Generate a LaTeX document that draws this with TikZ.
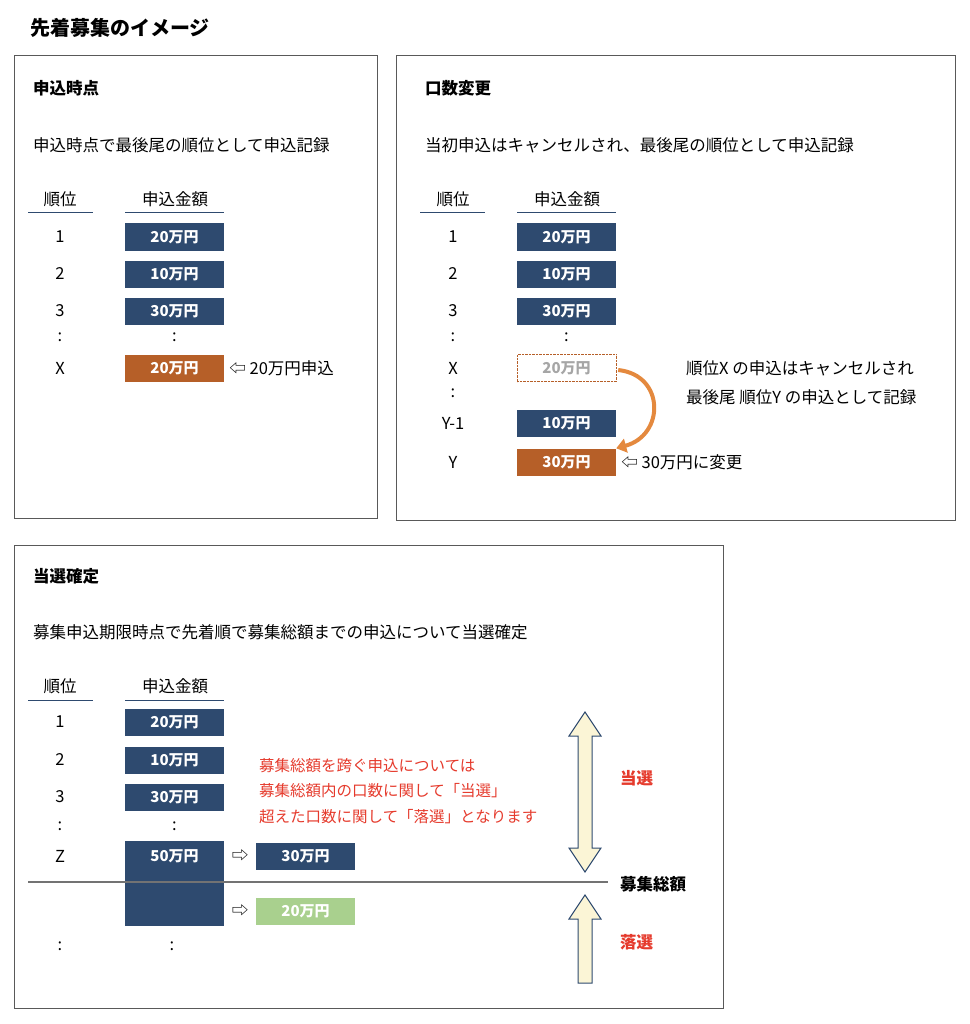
\documentclass[tikz,border=0pt]{standalone}
\usepackage{fontspec}
\setmainfont{Noto Sans CJK JP}
\usetikzlibrary{positioning,arrows.meta}
\definecolor{navy}{HTML}{2E4A6F}
\definecolor{rust}{HTML}{B65F28}
\definecolor{flame}{HTML}{E4893E}
\definecolor{leaf}{HTML}{A9D08E}
\definecolor{alert}{HTML}{E53A2C}
\definecolor{cream}{HTML}{FBF5D6}
\tikzset{
	panel/.style={draw=black!65, line width=0.8pt},
	amount/.style={fill=navy, text=white, font=\bfseries\fontsize{15}{17}\selectfont, minimum width=99pt, minimum height=27pt, inner sep=0pt},
	txt/.style={font=\fontsize{16.5}{19}\selectfont, inner sep=0pt},
	head/.style={font=\bfseries\fontsize{16.5}{19}\selectfont, anchor=west, inner sep=0pt},
	note/.style={txt, anchor=west},
	fat/.style={draw=navy, fill=cream, line width=1pt}
}
\begin{document}
\begin{tikzpicture}[x=1pt,y=-1pt]
	\useasboundingbox (0,0) rectangle (969,1024);
	\node[head, font=\bfseries\fontsize{20}{24}\selectfont] (title) at (30,28) {先着募集のイメージ};
	% panel 1
	\draw[panel] (14,55) rectangle (377,518);
	\node[head] (t1) at (33,88) {申込時点};
	\node[note] (d1) at (33,145) {申込時点で最後尾の順位として申込記録};
	\node[txt] (h1a) at (60,199) {順位};
	\node[txt] (h1b) at (175,199) {申込金額};
	\draw[navy, line width=1pt] (28,213) -- (93,213) (125,213) -- (224,213);
	\node[txt] (r1a) at (60,237) {1};
	\node[amount] (b1a) at (174.5,237) {20万円};
	\node[txt] (r1b) at (60,274) {2};
	\node[amount] (b1b) at (174.5,274) {10万円};
	\node[txt] (r1c) at (60,311) {3};
	\node[amount] (b1c) at (174.5,311) {30万円};
	\node[txt] (c1a) at (60,337) {:};
	\node[txt] (c1b) at (174.5,337) {:};
	\node[txt] (r1x) at (60,368) {X};
	\node[amount, fill=rust] (b1x) at (174.5,368) {20万円};
	\node[note, right=5pt of b1x] (n1) {⇦ 20万円申込};
	% panel 2
	\draw[panel] (396,55) rectangle (955,520);
	\node[head] (t2) at (425,88) {口数変更};
	\node[note] (d2) at (425,145) {当初申込はキャンセルされ、最後尾の順位として申込記録};
	\node[txt] (h2a) at (453,199) {順位};
	\node[txt] (h2b) at (567,199) {申込金額};
	\draw[navy, line width=1pt] (420,213) -- (485,213) (517,213) -- (616,213);
	\node[txt] (r2a) at (453,237) {1};
	\node[amount] (b2a) at (566.5,237) {20万円};
	\node[txt] (r2b) at (453,274) {2};
	\node[amount] (b2b) at (566.5,274) {10万円};
	\node[txt] (r2c) at (453,311) {3};
	\node[amount] (b2c) at (566.5,311) {30万円};
	\node[txt] (c2a) at (453,337) {:};
	\node[txt] (c2b) at (566.5,337) {:};
	\node[txt] (r2x) at (453,368) {X};
	\node[amount, fill=none, draw=rust, densely dotted, text=black!35] (b2x) at (566.5,368) {20万円};
	\node[txt] (c2c) at (453,393) {:};
	\node[txt] (r2y1) at (453,423) {Y-1};
	\node[amount] (b2y1) at (566.5,423) {10万円};
	\node[txt] (r2y) at (453,462) {Y};
	\node[amount, fill=rust] (b2y) at (566.5,462) {30万円};
	\node[note, right=5pt of b2y] (n2) {⇦ 30万円に変更};
	\node[note] (m2a) at (686,368) {順位X の申込はキャンセルされ};
	\node[note] (m2b) at (686,397) {最後尾 順位Y の申込として記録};
	\draw[flame, line width=4pt, -{Triangle[length=10pt,width=14pt]}]
		(b2x.east) ++(2,2) .. controls (665,375) and (665,435) .. (b2y.north east);
	% panel 3
	\draw[panel] (14,545) rectangle (723,1008);
	\node[head] (t3) at (33,576) {当選確定};
	\node[note] (d3) at (33,632) {募集申込期限時点で先着順で募集総額までの申込について当選確定};
	\node[txt] (h3a) at (60,686) {順位};
	\node[txt] (h3b) at (175,686) {申込金額};
	\draw[navy, line width=1pt] (28,700) -- (93,700) (125,700) -- (224,700);
	\node[txt] (r3a) at (60,722) {1};
	\node[amount] (b3a) at (174.5,722) {20万円};
	\node[txt] (r3b) at (60,760) {2};
	\node[amount] (b3b) at (174.5,760) {10万円};
	\node[txt] (r3c) at (60,797) {3};
	\node[amount] (b3c) at (174.5,797) {30万円};
	\node[txt] (c3a) at (60,826) {:};
	\node[txt] (c3b) at (174.5,826) {:};
	\node[txt] (r3z) at (60,856) {Z};
	\node[amount, minimum height=85pt, anchor=north] (b3z) at (174.5,841) {};
	\node[txt, text=white, font=\bfseries\fontsize{15}{17}\selectfont] (l3z) at (174.5,856) {50万円};
	\draw[black!55, line width=1.5pt] (28,882) -- (608,882);
	\node[txt] (a3a) at (240,856) {⇨};
	\node[amount] (b3in) at (305.5,856) {30万円};
	\node[txt] (a3b) at (240,911) {⇨};
	\node[amount, fill=leaf] (b3out) at (305.5,911) {20万円};
	\node[txt] (c3c) at (60,946) {:};
	\node[txt] (c3d) at (172,946) {:};
	\node[note, text=alert, font=\fontsize{15.5}{18}\selectfont] (m3a) at (259,766) {募集総額を跨ぐ申込については};
	\node[note, text=alert, font=\fontsize{15.5}{18}\selectfont] (m3b) at (259,791) {募集総額内の口数に関して「当選」};
	\node[note, text=alert, font=\fontsize{15.5}{18}\selectfont] (m3c) at (259,817) {超えた口数に関して「落選」となります};
	\draw[fat] (585,712) -- (601,736) -- (592,736) -- (592,848) -- (601,848) -- (585,872)
		-- (569,848) -- (578,848) -- (578,736) -- (569,736) -- cycle;
	\draw[fat] (585,895) -- (601,919) -- (592,919) -- (592,983) -- (578,983) -- (578,919) -- (569,919) -- cycle;
	\node[head, text=alert] (win) at (620,778) {当選};
	\node[head] (total) at (620,884) {募集総額};
	\node[head, text=alert] (lose) at (620,942) {落選};
\end{tikzpicture}
\end{document}
